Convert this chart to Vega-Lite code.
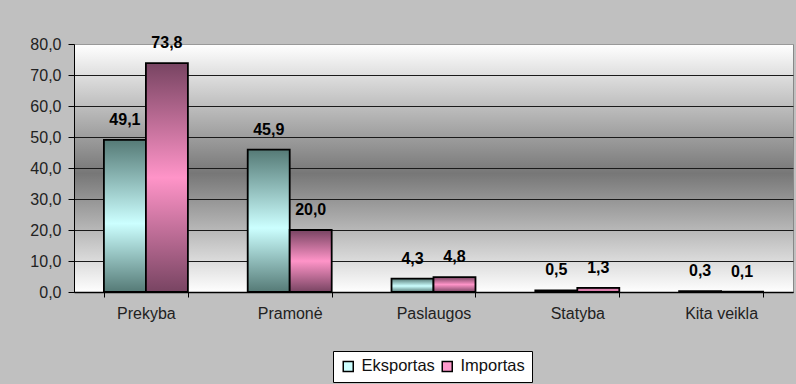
{
  "$schema": "https://vega.github.io/schema/vega-lite/v6.json",
  "width": 719,
  "height": 248,
  "autosize": "none",
  "padding": {"left": 74, "top": 44, "right": 3, "bottom": 92},
  "background": "#c0c0c0",
  "view": {
    "fill": {"gradient": "linear", "x1": 0, "y1": 0, "x2": 0, "y2": 1,
      "stops": [{"offset": 0, "color": "#ffffff"}, {"offset": 0.52, "color": "#777777"}, {"offset": 1, "color": "#ffffff"}]},
    "stroke": "#888888"
  },
  "config": {
    "font": "Liberation Sans",
    "locale": {"number": {"decimal": ",", "thousands": " ", "grouping": [3], "currency": ["", ""]}},
    "axis": {"labelFont": "Liberation Sans", "labelFontSize": 16, "labelColor": "#222222", "domainColor": "#000000", "tickColor": "#000000", "title": null}
  },
  "data": {
    "values": [
      {"category": "Prekyba", "series": "Eksportas", "value": 49.1},
      {"category": "Prekyba", "series": "Importas", "value": 73.8},
      {"category": "Pramonė", "series": "Eksportas", "value": 45.9},
      {"category": "Pramonė", "series": "Importas", "value": 20.0},
      {"category": "Paslaugos", "series": "Eksportas", "value": 4.3},
      {"category": "Paslaugos", "series": "Importas", "value": 4.8},
      {"category": "Statyba", "series": "Eksportas", "value": 0.5},
      {"category": "Statyba", "series": "Importas", "value": 1.3},
      {"category": "Kita veikla", "series": "Eksportas", "value": 0.3},
      {"category": "Kita veikla", "series": "Importas", "value": 0.1}
    ]
  },
  "encoding": {
    "x": {"field": "category", "type": "nominal", "sort": null,
      "scale": {"paddingInner": 0.416, "paddingOuter": 0.208},
      "axis": {"labelAngle": 0, "tickBand": "extent", "tickSize": 5, "labelPadding": 8, "grid": false, "domainWidth": 1.5}},
    "xOffset": {"field": "series", "type": "nominal", "sort": ["Eksportas", "Importas"]},
    "y": {"field": "value", "type": "quantitative",
      "scale": {"domain": [0, 80], "nice": false},
      "axis": {"values": [0, 10, 20, 30, 40, 50, 60, 70, 80], "format": ".1f", "tickSize": 6, "labelPadding": 7,
        "grid": true, "gridOpacity": 1, "gridWidth": 1.2,
        "gridColor": {"condition": {"test": "datum.value == 80", "value": "#999999"}, "value": "#1a1a1a"}}}
  },
  "layer": [
    {
      "mark": {"type": "bar", "stroke": "#000000", "strokeWidth": 1.8},
      "encoding": {
        "fill": {
          "field": "series", "type": "nominal",
          "scale": {"domain": ["Eksportas", "Importas"], "range": ["#ccffff", "#ff99cc"]},
          "legend": {"title": null, "orient": "none", "legendX": 259, "legendY": 307, "direction": "horizontal",
            "fillColor": "#ffffff", "strokeColor": "#000000", "padding": 7,
            "symbolType": "square", "symbolSize": 100, "symbolStrokeColor": "#000000", "symbolStrokeWidth": 1.5,
            "labelFont": "Liberation Sans", "labelFontSize": 16.5, "labelColor": "#111111", "labelOffset": 5, "columnPadding": 4},
          "condition": [
            {"test": "datum.series === 'Eksportas'", "value": {"gradient": "linear", "x1": 0, "y1": 0, "x2": 0, "y2": 1,
              "stops": [{"offset": 0, "color": "#557a76"}, {"offset": 0.55, "color": "#ccffff"}, {"offset": 1, "color": "#557a76"}]}},
            {"test": "datum.series === 'Importas'", "value": {"gradient": "linear", "x1": 0, "y1": 0, "x2": 0, "y2": 1,
              "stops": [{"offset": 0, "color": "#784462"}, {"offset": 0.5, "color": "#ff94c8"}, {"offset": 1, "color": "#784462"}]}}
          ]
        }
      }
    },
    {
      "mark": {"type": "text", "baseline": "middle", "dy": -20, "fontWeight": "bold", "fontSize": 16, "color": "#000000", "font": "Liberation Sans"},
      "encoding": {
        "text": {"field": "value", "type": "quantitative", "format": ".1f"}
      }
    }
  ]
}
